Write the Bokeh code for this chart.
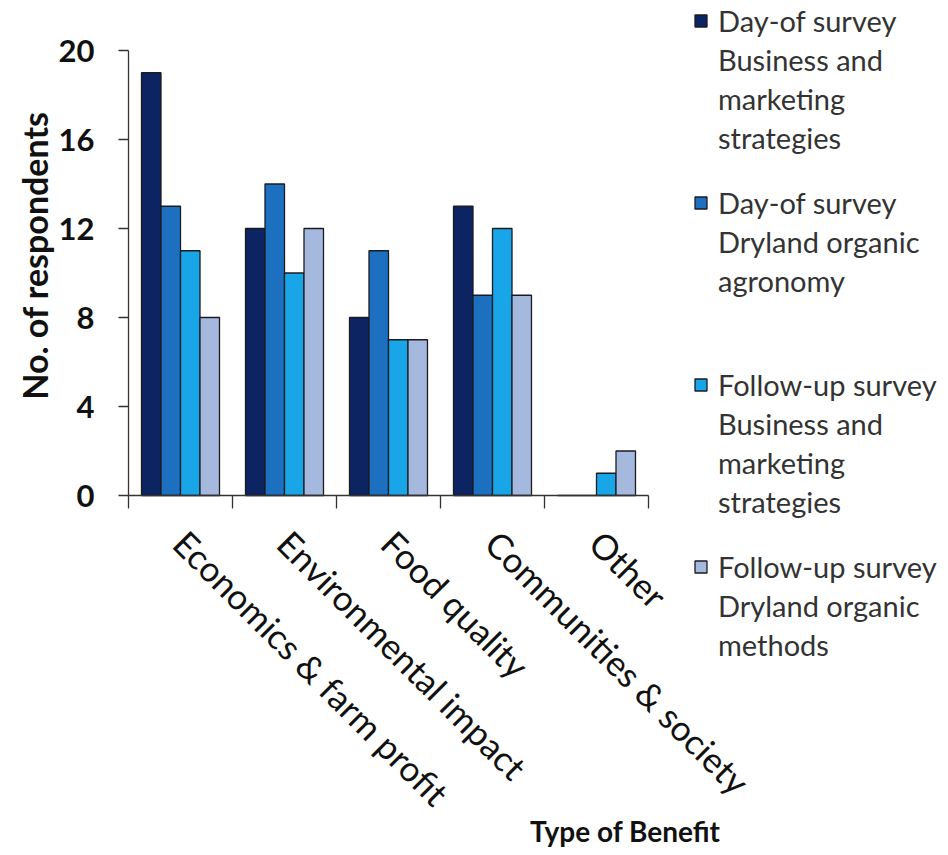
import math
from bokeh.plotting import figure
from bokeh.models import (ColumnDataSource, FixedTicker, Legend, LegendItem, Label, Range1d)
from bokeh.embed import file_html
from bokeh.resources import INLINE

categories = ["Economics &  farm profit", "Environmental impact", "Food quality",
              "Communities & society", "Other"]
series_names = [
    ["Day-of survey", "Business and", "marketing", "strategies"],
    ["Day-of survey", "Dryland organic", "agronomy"],
    ["Follow-up survey", "Business and", "marketing", "strategies"],
    ["Follow-up survey", "Dryland organic", "methods"],
]
day_business = [19, 12, 8, 13, 0]
day_dryland = [13, 14, 11, 9, 0]
follow_business = [11, 10, 7, 12, 1]
follow_dryland = [8, 12, 7, 9, 2]
series_values = [day_business, day_dryland, follow_business, follow_dryland]
colors = ["#0c2461", "#1d6fc0", "#18a6e8", "#a5b8de"]
y_ticks = [0, 4, 8, 12, 16, 20]
Y_MAX = 20
y_title = "No. of respondents"
x_title = "Type of Benefit"

FONT = "Lato"

# layout constants (pixels); the frame covers the whole canvas and the axes are
# pinned at data 0 so that the legend and titles can sit anywhere on the page
W, H = 948, 855
X0_PX, Y0_PX = 128, 495            # pixel of x=0 and y=0
X5_PX, Y20_PX = 648, 50            # pixel of end of x axis and of y=20
ncat = len(categories)
px_x = (X5_PX - X0_PX) / ncat
px_y = (Y0_PX - Y20_PX) / Y_MAX

p = figure(width=W, height=H, output_backend="svg", toolbar_location=None,
           x_range=Range1d(-X0_PX / px_x, (W - X0_PX) / px_x),
           y_range=Range1d(-(H - Y0_PX) / px_y, Y0_PX / px_y),
           min_border=0, min_border_left=0, min_border_right=0,
           min_border_top=0, min_border_bottom=0)
p.outline_line_color = None
p.grid.grid_line_color = None
p.background_fill_color = "white"
p.border_fill_color = "white"

bar_w = 0.1875
offsets = [-1.5 * bar_w, -0.5 * bar_w, 0.5 * bar_w, 1.5 * bar_w]
centers = [i + 0.5 for i in range(ncat)]

renderers = []
for vals, col, off in zip(series_values, colors, offsets):
    src = ColumnDataSource(dict(x=[c + off for c in centers], top=vals))
    r = p.vbar(x="x", top="top", width=bar_w, source=src, fill_color=col,
               line_color="#1b1b22", line_width=1.3)
    renderers.append(r)

blank = p.vbar(x=[], top=[], width=0.1, fill_alpha=0, line_alpha=0)

# y axis
p.yaxis.fixed_location = 0
p.yaxis.ticker = FixedTicker(ticks=y_ticks)
p.yaxis.bounds = (0, Y_MAX)
p.yaxis.major_label_text_font = FONT
p.yaxis.major_label_text_font_style = "bold"
p.yaxis.major_label_text_font_size = "31px"
p.yaxis.major_label_text_color = "#111111"
p.yaxis.major_label_standoff = 24
p.yaxis.major_tick_out = 10
p.yaxis.major_tick_in = 0
p.yaxis.minor_tick_line_color = None
p.yaxis.axis_line_color = "#333333"
p.yaxis.major_tick_line_color = "#333333"
p.yaxis.axis_line_width = 1.3
p.yaxis.major_tick_line_width = 1.3

# x axis
p.xaxis.fixed_location = 0
p.xaxis.ticker = FixedTicker(ticks=centers, minor_ticks=list(range(ncat + 1)))
p.xaxis.bounds = (0, ncat)
p.xaxis.major_label_overrides = {c: lab for c, lab in zip(centers, categories)}
p.xaxis.major_tick_out = 0
p.xaxis.major_tick_in = 0
p.xaxis.minor_tick_out = 13
p.xaxis.minor_tick_in = 0
p.xaxis.minor_tick_line_color = "#333333"
p.xaxis.minor_tick_line_width = 1.3
p.xaxis.axis_line_color = "#333333"
p.xaxis.axis_line_width = 1.3
p.xaxis.major_label_orientation = -0.785
p.xaxis.major_label_text_font = FONT
p.xaxis.major_label_text_font_style = "normal"
p.xaxis.major_label_text_font_size = "35px"
p.xaxis.major_label_text_color = "#111111"
p.xaxis.major_label_standoff = 28

# axis titles
p.add_layout(Label(x=34, y=H - 255, x_units="screen", y_units="screen",
                   text=y_title, angle=math.pi / 2, text_font=FONT,
                   text_font_style="bold", text_font_size="34px",
                   text_color="#111111", text_align="center",
                   text_baseline="middle"))
p.add_layout(Label(x=720, y=H - 830, x_units="screen", y_units="screen",
                   text=x_title, text_font=FONT, text_font_style="bold",
                   text_font_size="28px", text_color="#111111",
                   text_align="right", text_baseline="middle"))

# legend: one Bokeh Legend per series so each block sits where the reference has it
LINE_H, SPACING = 35, 4
first_line_centers = [20, 202, 384, 566]
legend_left = 693
for r, lines, yc in zip(renderers, series_names, first_line_centers):
    items = [LegendItem(label=lines[0], renderers=[r])]
    items += [LegendItem(label=t, renderers=[blank]) for t in lines[1:]]
    n = len(lines)
    top = yc - LINE_H / 2
    bottom = top + n * LINE_H + (n - 1) * SPACING
    lg = Legend(items=items, location=(legend_left, H - bottom),
                orientation="vertical", glyph_width=15, glyph_height=15,
                label_standoff=10, label_height=LINE_H, spacing=SPACING,
                padding=0, margin=0, border_line_color=None,
                background_fill_alpha=0, label_text_font=FONT,
                label_text_font_size="29px", label_text_color="#333333")
    p.add_layout(lg, "center")

open("out.html", "w").write(file_html(p, INLINE))
